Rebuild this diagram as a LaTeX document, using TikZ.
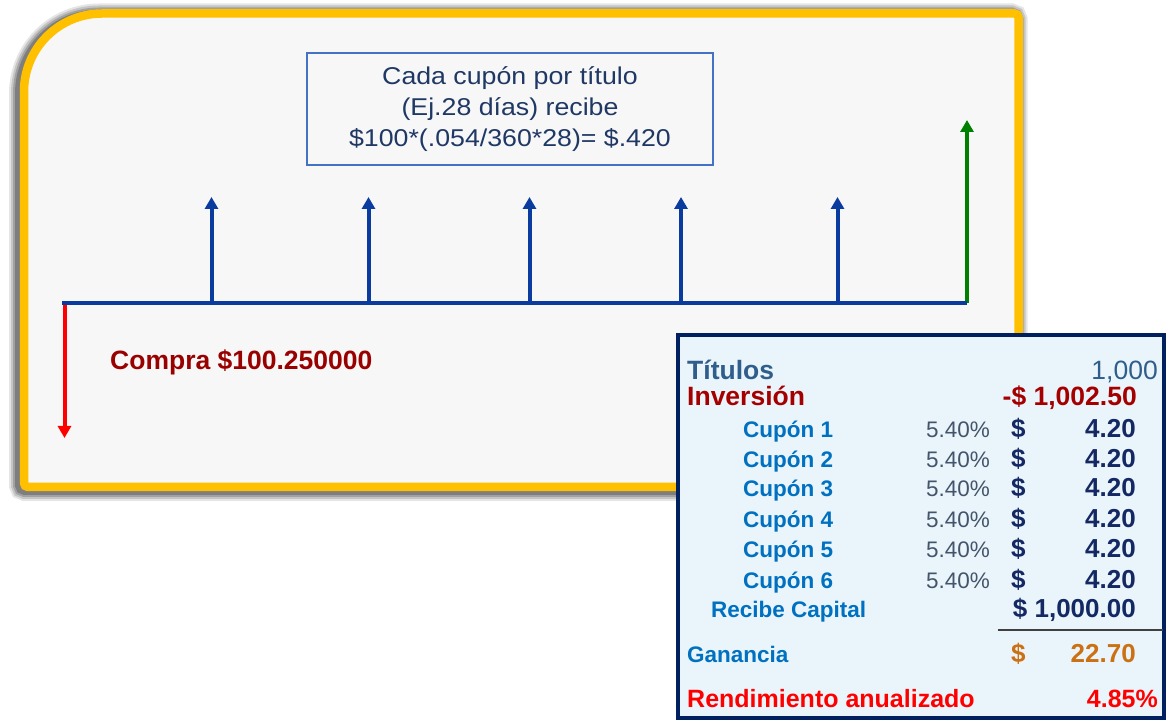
\documentclass[tikz,border=0pt]{standalone}
\usepackage{fontspec}
\setmainfont{Liberation Sans}
\newfontfamily\boxfont[FakeStretch=1.1]{Liberation Sans}
\usetikzlibrary{arrows.meta}
\definecolor{frameyellow}{RGB}{255,192,0}
\definecolor{panelbg}{RGB}{247,247,247}
\definecolor{lineblue}{RGB}{10,60,160}
\definecolor{arrowgreen}{RGB}{0,128,0}
\definecolor{compracol}{RGB}{153,0,0}
\definecolor{boxborder}{RGB}{68,114,196}
\definecolor{boxtext}{RGB}{31,56,100}
\definecolor{tabfill}{RGB}{234,245,251}
\definecolor{tabnavy}{RGB}{0,32,96}
\definecolor{titcol}{RGB}{47,93,140}
\definecolor{invcol}{RGB}{165,0,0}
\definecolor{cupcol}{RGB}{0,112,192}
\definecolor{pctcol}{RGB}{68,84,106}
\definecolor{numcol}{RGB}{20,40,100}
\definecolor{gancol}{RGB}{204,112,20}
\definecolor{rendcol}{RGB}{255,0,0}
\tikzset{
  framepath/.style={insert path={(28,233) -- (1014.5,233) arc[start angle=-90,end angle=0,radius=4] -- (1018.5,702.5) arc[start angle=0,end angle=90,radius=4] -- (102,706.5) arc[start angle=90,end angle=180,radius=78] -- (24,237) arc[start angle=180,end angle=270,radius=4] -- cycle}},
  tipshape/.style={-{Triangle[width=13,length=12]}},
  flowup/.style={lineblue,line width=4,tipshape},
  lbl/.style={inner sep=0,font=\bfseries\fontsize{22.5}{27}\selectfont,text=cupcol},
  pct/.style={inner sep=0,anchor=base east,font=\fontsize{22.5}{27}\selectfont,text=pctcol},
  dollar/.style={inner sep=0,anchor=base west,font=\bfseries\fontsize{26}{30}\selectfont,text=numcol},
  amount/.style={inner sep=0,anchor=base east,font=\bfseries\fontsize{26}{30}\selectfont,text=numcol},
}
\begin{document}
\begin{tikzpicture}[x=1pt,y=1pt]
\useasboundingbox (0,0) rectangle (1168,720);
% shadow of the panel
\begin{scope}[shift={(-3,-2)}]
  \foreach \w/\o in {24/0.1,20/0.14,16/0.18,12/0.22}
    \draw[black,opacity=\o,line width=\w,framepath];
\end{scope}
% panel
\fill[panelbg,framepath];
\draw[frameyellow,line width=8.5,framepath];
% info box
\node[draw=boxborder,line width=1.3,minimum width=406,minimum height=112,inner sep=0,
      align=center,text=boxtext,font=\boxfont\fontsize{24.3}{31}\selectfont]
      (info) at (510,611) {Cada cupón por título\\(Ej.28 días) recibe\\\$100*(.054/360*28)= \$.420};
% timeline
\coordinate (t0) at (62,417);
\coordinate (tend) at (967,417);
\coordinate (c1) at (211.5,417); \coordinate (c1u) at (211.5,523);
\coordinate (c2) at (368.5,417); \coordinate (c2u) at (368.5,523);
\coordinate (c3) at (529.5,417); \coordinate (c3u) at (529.5,523);
\coordinate (c4) at (681,417);   \coordinate (c4u) at (681,523);
\coordinate (c5) at (837.5,417); \coordinate (c5u) at (837.5,523);
\coordinate (gu) at (967,600);
\coordinate (rs) at (64.5,415);
\coordinate (rd) at (64.5,282);
\foreach \i in {1,...,5} \draw[flowup] (c\i) -- (c\i u);
\draw[arrowgreen,line width=4,tipshape] (tend) -- (gu);
\draw[rendcol,line width=4,tipshape] (rs) -- (rd);
\draw[lineblue,line width=4] (t0) -- (tend);
\node[anchor=base west,inner sep=0,font=\bfseries\fontsize{26.5}{30}\selectfont,text=compracol]
      (compra) at (110,350) {Compra \$100.250000};
% table
\node[draw=tabnavy,line width=4,fill=tabfill,minimum width=486,minimum height=383.5,inner sep=0]
      (tab) at (921,193.25) {};
\node[inner sep=0,anchor=base west,font=\bfseries\fontsize{26.5}{30}\selectfont,text=titcol] (tit) at (687,340) {Títulos};
\node[inner sep=0,anchor=base east,font=\fontsize{26.5}{30}\selectfont,text=titcol] (titv) at (1158,340) {1,000};
\node[inner sep=0,anchor=base west,font=\bfseries\fontsize{26.5}{30}\selectfont,text=invcol] (inv) at (687,314) {Inversión};
\node[inner sep=0,anchor=base east,font=\bfseries\fontsize{26.5}{30}\selectfont,text=invcol] (invv) at (1137,314) {-\$ 1,002.50};
\foreach \i/\y in {1/282,2/252,3/223,4/192,5/162,6/131}{
  \node[lbl,anchor=base west] (cup\i) at (743,\y) {Cupón \i};
  \node[pct] (pct\i) at (990,\y) {5.40\%};
  \node[dollar] (dol\i) at (1011,\y) {\$};
  \node[amount] (amt\i) at (1136,\y) {4.20};
}
\node[lbl,anchor=base west] (rec) at (711,102) {Recibe Capital};
\node[amount] (recv) at (1136,102) {\$ 1,000.00};
\coordinate (sepL) at (998,90);
\coordinate (sepR) at (1163,90);
\draw[black!75,line width=2] (sepL) -- (sepR);
\node[lbl,anchor=base west] (gan) at (687,57) {Ganancia};
\node[dollar,text=gancol] (gand) at (1011,57) {\$};
\node[amount,text=gancol] (ganv) at (1136,57) {22.70};
\node[inner sep=0,anchor=base west,font=\bfseries\fontsize{25}{30}\selectfont,text=rendcol] (rend) at (687,12) {Rendimiento anualizado};
\node[inner sep=0,anchor=base east,font=\bfseries\fontsize{25}{30}\selectfont,text=rendcol] (rendv) at (1158,12) {4.85\%};
\end{tikzpicture}
\end{document}
